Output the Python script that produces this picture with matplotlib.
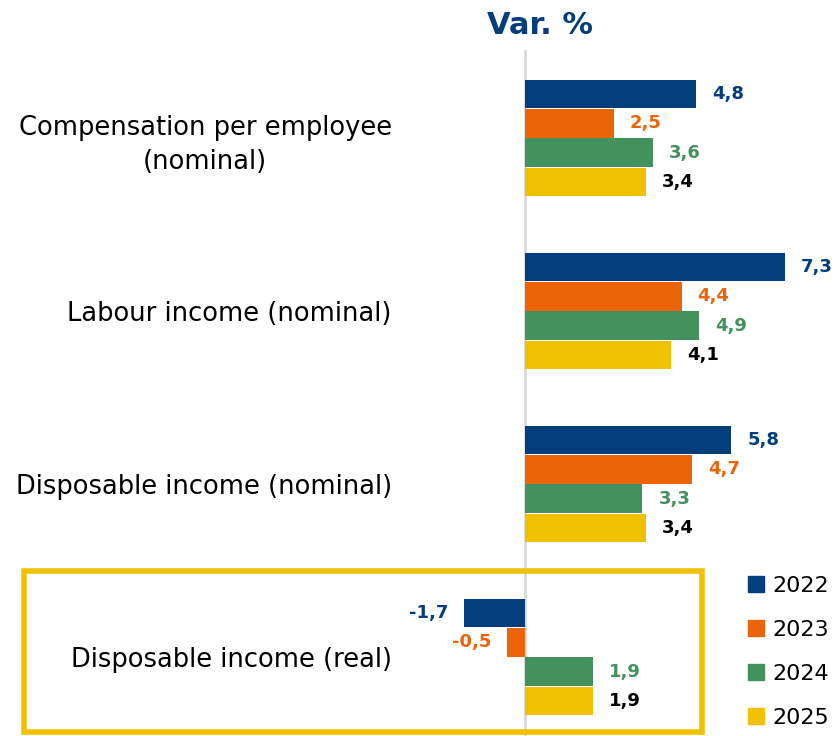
import matplotlib
matplotlib.use("Agg")
import matplotlib.pyplot as plt
from matplotlib.patches import Rectangle
from matplotlib.lines import Line2D
import numpy as np

categories = ["Compensation per employee\n(nominal)", "Labour income (nominal)",
              "Disposable income (nominal)", "Disposable income (real)"]
years = ["2022", "2023", "2024", "2025"]
v2022 = [4.8, 7.3, 5.8, -1.7]
v2023 = [2.5, 4.4, 4.7, -0.5]
v2024 = [3.6, 4.9, 3.3, 1.9]
v2025 = [3.4, 4.1, 3.4, 1.9]
series = [v2022, v2023, v2024, v2025]

bar_colors = ["#033e7c", "#ec6408", "#43915c", "#efc100"]
label_colors = ["#033e7c", "#ec6408", "#43915c", "#000000"]

plt.rcParams['font.family'] = ['DejaVu Sans']

W, H = 839, 736
fig = plt.figure(figsize=(W/100, H/100), dpi=100)
ax_left, ax_right = 400, 839
ax_top, ax_bot = 50, 736
ax = fig.add_axes([ax_left/W, 1-ax_bot/H, (ax_right-ax_left)/W, (ax_bot-ax_top)/H])

ppu = 35.6
zero_px = 525
ax.set_xlim((ax_left-zero_px)/ppu, (ax_right-zero_px)/ppu)
gap = 173
c0 = 138
ax.set_ylim((ax_bot-c0)/gap, (ax_top-c0)/gap)

bh = 0.17
y = np.arange(len(categories))
for j, vals in enumerate(series):
    pos = y + (j-1.5)*bh
    ax.barh(pos, vals, height=bh*0.97, color=bar_colors[j], zorder=2)
    for p, v in zip(pos, vals):
        txt = f"{v:.1f}".replace(".", ",")
        off = 0.45
        if v >= 0:
            ax.text(v+off, p, txt, ha='left', va='center', fontsize=13,
                    fontweight='bold', color=label_colors[j])
        else:
            ax.text(v-off, p, txt, ha='right', va='center', fontsize=13,
                    fontweight='bold', color=label_colors[j])

ax.axvline(0, color="#d9d9d9", lw=2, zorder=1)
for s in ax.spines.values():
    s.set_visible(False)
ax.set_xticks([])
ax.set_yticks(y)
ax.set_yticklabels(categories, fontsize=18.5, multialignment='center', linespacing=1.4)
ax.tick_params(axis='y', length=0, pad=6)
for lab in ax.get_yticklabels():
    lab.set_horizontalalignment('right')

fig.text(540/W, 1-25/H, "Var. %", ha='center', va='center', fontsize=22,
         fontweight='bold', color="#033e7c")

# highlight box
fig.add_artist(Rectangle((24/W, 1-732/H), (702-24)/W, (732-571)/H, transform=fig.transFigure,
                         fill=False, edgecolor="#efc100", lw=4))

handles = [Line2D([], [], marker='s', ls='none', markersize=11, color=c) for c in bar_colors]
fig.legend(handles, years, loc='upper left', bbox_to_anchor=(732/W, 1-565/H),
           frameon=False, fontsize=16, handletextpad=0.1, labelspacing=1.08,
           handlelength=1.2, borderpad=0)

fig.savefig("out.png", dpi=100)
